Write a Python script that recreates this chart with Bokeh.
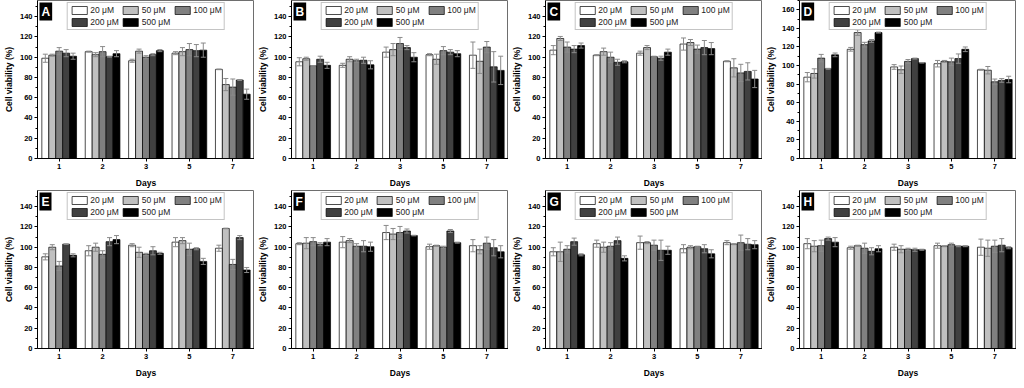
from bokeh.plotting import figure
from bokeh.models import (ColumnDataSource, FactorRange, Range1d, FixedTicker,
                          Whisker, TeeHead, Legend, LegendItem, Label)
from bokeh.transform import dodge
from bokeh.layouts import row, column
from bokeh.embed import file_html
from bokeh.resources import INLINE

days = ["1", "2", "3", "5", "7"]
conc = ["20 μM", "50 μM", "100 μM", "200 μM", "500 μM"]
colors = ["#ffffff", "#c0c0c0", "#808080", "#404040", "#000000"]
letters = ["A", "B", "C", "D", "E", "F", "G", "H"]

# rows: 20, 50, 100, 200, 500 uM ; columns: days 1, 2, 3, 5, 7
A_mean = [[99, 105.5, 96.5, 104, 88], [102, 102.5, 106, 105.5, 73], [106, 105.5, 100, 107.5, 70.5],
          [104, 100.5, 102.5, 106.5, 77.5], [101, 103.5, 106.5, 107, 63.5]]
A_err = [[4, 0.5, 1.5, 1.5, 0.3], [1, 2, 2, 4, 6], [3.5, 5, 1.5, 6, 8], [3.5, 0.5, 1, 6, 0.5], [3, 3, 1, 7, 5]]

B_mean = [[95.5, 92, 105, 102.5, 102], [98.5, 98, 107.5, 98, 96], [91.5, 96.5, 113.5, 106.5, 110],
          [98, 97, 109.5, 105, 90.5], [92, 92.5, 100, 103.5, 87]]
B_err = [[4, 2, 5, 1, 13], [1.5, 2.5, 6, 5, 12], [0.3, 1.5, 6, 4, 5.5], [3, 3, 2, 2.5, 15], [3, 4, 4.5, 3, 14]]

C_mean = [[107, 102, 104, 113, 96], [118.5, 105.5, 109.5, 114.5, 89.5], [110, 100, 100.5, 108, 84.5],
          [108, 95, 99, 109.5, 86], [111.5, 95.5, 105, 108.5, 78.5]]
C_err = [[4.5, 0.5, 2, 6, 0.5], [2, 3.5, 2, 3, 9], [5, 5, 0.5, 4, 8.5], [3.5, 3, 2, 7, 8.5], [2.5, 1, 3, 6, 8.5]]

D_mean = [[87.5, 117.5, 98.5, 102, 95.5], [91.5, 135.5, 95.5, 104.5, 95], [108, 122.5, 104.5, 104, 82.5],
          [96.5, 126.5, 107.5, 107.5, 84], [111.5, 135.5, 103, 117.5, 85]]
D_err = [[5, 2, 2.5, 3.5, 0.5], [5, 3, 4, 1, 4], [4, 2.5, 2, 4, 3], [0.5, 1.5, 0.5, 5, 2], [2, 0.5, 0.3, 2.5, 3.5]]

E_mean = [[90.5, 96.5, 102, 105, 99], [100, 100, 95, 106.5, 118.5], [81.5, 93, 93, 98, 83],
          [103, 105.5, 96.5, 98.5, 109.5], [92, 107.5, 94, 86, 77.5]]
E_err = [[3, 5, 1.5, 4.5, 3], [2.5, 4, 5, 3, 0.3], [4.5, 3.5, 1, 6, 5], [0.3, 4, 4, 1, 2], [1.5, 4, 1, 3, 2.5]]

F_mean = [[103.5, 105, 114.5, 100.5, 101.5], [104, 106.5, 113, 101.5, 97.5], [105.5, 101, 114.5, 100, 104],
          [103, 101, 116, 116, 99.5], [105, 100.5, 111.5, 104.5, 95.5]]
F_err = [[1, 5.5, 7, 2.5, 6], [5.5, 2, 5.5, 0.5, 4], [4, 2.5, 6, 1, 6], [1.5, 5.5, 2, 1.5, 8], [3.5, 4.5, 0.3, 0.5, 6]]

G_mean = [[95.5, 103.5, 104.5, 98.5, 104.5], [95.5, 100, 104.5, 100, 103], [98, 101, 102, 100.5, 104.5],
          [105.5, 106.5, 97, 98.5, 103], [92.5, 89, 97, 93.5, 102.5]]
G_err = [[4, 3.5, 6.5, 4, 2], [9.5, 5, 1, 1.5, 0.5], [3.5, 3.5, 5, 0.5, 7.5], [3.5, 3.5, 10, 4, 5.5], [1, 2.5, 4, 4, 4]]

H_mean = [[103.5, 99.5, 100, 101.5, 100], [101, 101.5, 98, 101, 99], [101.5, 99, 98, 102.5, 101],
          [108.5, 96, 97.5, 101, 102], [105, 98.5, 97.5, 101, 99.5]]
H_err = [[5, 1.5, 3, 2.5, 8], [5.5, 0.5, 3.5, 0.5, 8], [5.5, 5, 1, 1.5, 6], [1.5, 3.5, 1.5, 0.5, 6.5], [4.5, 3, 0.5, 0.5, 1]]

y_top = {"A": 156, "B": 156, "C": 156, "D": 170, "E": 156, "F": 156, "G": 156, "H": 156}
y_tick_max = {"A": 140, "B": 140, "C": 140, "D": 160, "E": 140, "F": 140, "G": 140, "H": 140}

means = [A_mean, B_mean, C_mean, D_mean, E_mean, F_mean, G_mean, H_mean]
errs = [A_err, B_err, C_err, D_err, E_err, F_err, G_err, H_err]

FONT = "Liberation Sans"
W, H = 254, 190
offsets = [-0.32, -0.16, 0.0, 0.16, 0.32]


def make_panel(letter, mean, err):
    ytop = y_top[letter]
    p = figure(x_range=FactorRange(factors=days), y_range=Range1d(0, ytop),
               width=W, height=H, output_backend="svg", toolbar_location=None,
               min_border_left=0, min_border_right=0, min_border_top=0, min_border_bottom=0)
    p.title.visible = False
    p.xgrid.grid_line_color = None
    p.ygrid.grid_line_color = None
    p.outline_line_color = "#6e6e6e"
    p.outline_line_width = 1

    items = []
    for i in range(5):
        src = ColumnDataSource(dict(day=days, top=mean[i],
                                    upper=[m + e for m, e in zip(mean[i], err[i])],
                                    lower=[m - e for m, e in zip(mean[i], err[i])]))
        r = p.vbar(x=dodge("day", offsets[i], range=p.x_range), top="top", bottom=0, width=0.16,
                   source=src, fill_color=colors[i], line_color="black", line_width=0.7)
        items.append(LegendItem(label=conc[i], renderers=[r]))
        w = Whisker(base=dodge("day", offsets[i], range=p.x_range), upper="upper", lower="lower",
                    source=src, line_color="#8a8a8a", line_width=1, level="overlay",
                    upper_head=TeeHead(size=5, line_color="#8a8a8a", line_width=1),
                    lower_head=TeeHead(size=5, line_color="#8a8a8a", line_width=1))
        p.add_layout(w)

    tm = y_tick_max[letter]
    p.yaxis.ticker = FixedTicker(ticks=list(range(0, tm + 1, 20)),
                                 minor_ticks=list(range(10, tm + 11, 10)))
    for ax in (p.xaxis[0], p.yaxis[0]):
        ax.axis_line_color = "black"
        ax.axis_line_width = 1
        ax.major_tick_line_color = "black"
        ax.major_tick_out = 3
        ax.major_tick_in = 0
        ax.major_label_text_font = FONT
        ax.major_label_text_font_style = "bold"
        ax.major_label_text_font_size = "7.5px"
        ax.major_label_text_color = "black"
        ax.major_label_standoff = 2
        ax.axis_label_text_font = FONT
        ax.axis_label_text_font_style = "bold"
        ax.axis_label_text_font_size = "8.5px"
        ax.axis_label_text_color = "black"
    p.yaxis.minor_tick_out = 2
    p.yaxis.minor_tick_in = 0
    p.yaxis.minor_tick_line_color = "black"
    p.xaxis.minor_tick_line_color = None
    p.yaxis.axis_label = "Cell viability (%)"
    p.yaxis.axis_label_standoff = 3
    p.xaxis.axis_label = "Days"
    p.xaxis.axis_label_standoff = 6

    leg = Legend(items=items, orientation="horizontal", ncols=3,
                 location="top",
                 border_line_color="#8a8a8a", border_line_width=1,
                 background_fill_color="white", background_fill_alpha=1,
                 padding=2, spacing=2, margin=2,
                 glyph_width=19, glyph_height=10, label_standoff=2,
                 label_height=10, label_width=10,
                 label_text_font=FONT, label_text_font_size="8.5px",
                 label_text_color="#222222")
    p.add_layout(leg, "center")

    lab = Label(x=0, y=ytop, x_units="data", y_units="data", text=letter,
                text_color="white", text_font=FONT, text_font_style="bold",
                text_font_size="12px", text_align="left", text_baseline="top",
                x_offset=2, y_offset=-2, background_fill_color="black",
                background_fill_alpha=1, padding=2)
    p.add_layout(lab)
    return p


figs = [make_panel(letters[k], means[k], errs[k]) for k in range(8)]
layout = column(row(*figs[:4]), row(*figs[4:]))
open("out.html", "w").write(file_html(layout, INLINE))
